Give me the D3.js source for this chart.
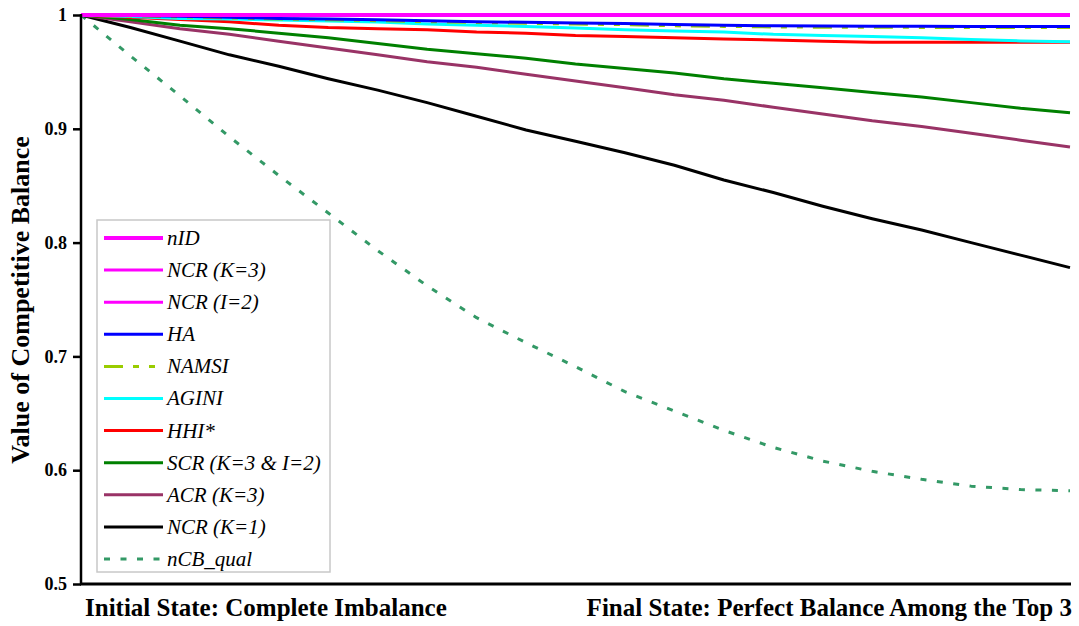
<!DOCTYPE html>
<html>
<head>
<meta charset="utf-8">
<script src="https://cdn.jsdelivr.net/npm/d3@7"></script>
<style>
  html, body { margin: 0; padding: 0; background: #fff; }
  svg { display: block; }
  text { font-family: "Liberation Serif", "Times New Roman", serif; fill: #000; }
</style>
</head>
<body>
<svg id="chart" width="1079" height="626"></svg>
<script>
// ---------- data ----------
const steps = d3.range(0, 21); // 0 = initial state, 20 = final state

const nID      = [1,1,1,1,1,1,1,1,1,1,1,1,1,1,1,1,1,1,1,1,1];
const ncrK3    = [1,1,1,1,1,1,1,1,1,1,1,1,1,1,1,1,1,1,1,1,1];
const ncrI2    = [1,1,1,1,1,1,1,1,1,1,1,1,1,1,1,1,1,1,1,1,1];
const ha       = [1.000,0.9996,0.9989,0.998,0.997,0.9965,0.9958,0.995,0.994,0.9936,0.993,0.9925,0.9917,0.991,0.9905,0.9903,0.9902,0.9901,0.990,0.990,0.990];
const namsi    = [1.000,0.9992,0.9984,0.9975,0.9965,0.9958,0.995,0.9942,0.9934,0.9928,0.992,0.9915,0.9905,0.990,0.9895,0.9893,0.9892,0.9891,0.989,0.989,0.989];
const agini    = [1.000,0.9987,0.997,0.9965,0.9956,0.9947,0.9939,0.992,0.991,0.990,0.9886,0.987,0.986,0.985,0.983,0.982,0.981,0.980,0.9785,0.9772,0.9765];
const hhi      = [1.000,0.998,0.996,0.994,0.991,0.989,0.988,0.987,0.985,0.984,0.982,0.981,0.980,0.979,0.978,0.977,0.976,0.976,0.976,0.976,0.976];
const scr      = [1.000,0.996,0.991,0.988,0.984,0.980,0.975,0.970,0.966,0.962,0.957,0.953,0.949,0.944,0.940,0.936,0.932,0.928,0.923,0.918,0.914];
const acrK3    = [1.000,0.994,0.988,0.983,0.977,0.971,0.965,0.959,0.954,0.948,0.942,0.936,0.930,0.925,0.919,0.913,0.907,0.902,0.896,0.890,0.884];
const ncrK1    = [1.000,0.989,0.977,0.965,0.955,0.944,0.934,0.923,0.911,0.899,0.889,0.879,0.868,0.855,0.844,0.832,0.821,0.811,0.800,0.789,0.778];
const ncbQual  = [1.000,0.964,0.929,0.893,0.859,0.826,0.793,0.762,0.734,0.712,0.691,0.669,0.652,0.635,0.620,0.608,0.599,0.592,0.586,0.583,0.582];

const seriesNames = ["nID","NCR (K=3)","NCR (I=2)","HA","NAMSI","AGINI","HHI*","SCR (K=3 & I=2)","ACR (K=3)","NCR (K=1)","nCB_qual"];
const seriesValues = [nID, ncrK3, ncrI2, ha, namsi, agini, hhi, scr, acrK3, ncrK1, ncbQual];
const yTicks = [0.5, 0.6, 0.7, 0.8, 0.9, 1];
const yTickLabels = ["0.5","0.6","0.7","0.8","0.9","1"];
const xStartLabel = "Initial State: Complete Imbalance";
const xEndLabel = "Final State: Perfect Balance Among the Top 3";
const yTitle = "Value of Competitive Balance";

// ---------- styles ----------
const styles = {
  "nID":             {color: "#ff00ff", width: 4,   dash: null},
  "NCR (K=3)":       {color: "#ff00ff", width: 3,   dash: null},
  "NCR (I=2)":       {color: "#ff00ff", width: 3,   dash: null},
  "HA":              {color: "#0000ff", width: 3,   dash: null},
  "NAMSI":           {color: "#99cc00", width: 3,   dash: "19,10,6,10,6,10"},
  "AGINI":           {color: "#00ffff", width: 3,   dash: null},
  "HHI*":            {color: "#ff0000", width: 3,   dash: null},
  "SCR (K=3 & I=2)": {color: "#008000", width: 3,   dash: null},
  "ACR (K=3)":       {color: "#993366", width: 3,   dash: null},
  "NCR (K=1)":       {color: "#000000", width: 3,   dash: null},
  "nCB_qual":        {color: "#339966", width: 3,   dash: "6,10.5"}
};

const series = seriesNames.map((n, i) => ({name: n, values: seriesValues[i]}));

// ---------- layout ----------
const svg = d3.select("#chart");
const x = d3.scaleLinear().domain([0, 20]).range([81, 1070]);
const y = d3.scaleLinear().domain([0.5, 1]).range([584, 15]);

const line = d3.line()
  .x((d, i) => x(steps[i]))
  .y(d => y(d));

// lines (reverse legend order so nID ends on top)
svg.append("g").selectAll("path")
  .data(series.slice().reverse())
  .join("path")
  .attr("d", d => line(d.values))
  .attr("fill", "none")
  .attr("stroke", d => styles[d.name].color)
  .attr("stroke-width", d => styles[d.name].width)
  .attr("stroke-dasharray", d => styles[d.name].dash)
  .attr("stroke-linejoin", "round");

// y axis
const yAxis = d3.axisLeft(y)
  .tickValues(yTicks)
  .tickFormat((d, i) => yTickLabels[i])
  .tickSize(8)
  .tickPadding(6);
const gy = svg.append("g").attr("transform", "translate(81,0)").call(yAxis);
gy.attr("font-family", null).attr("font-size", null);
gy.select(".domain").attr("stroke", "#000").attr("stroke-width", 2.5).attr("d", "M0,14V585");
gy.selectAll(".tick line").attr("stroke", "#000").attr("stroke-width", 2.5);
gy.selectAll(".tick text")
  .style("font-family", "'Liberation Serif', 'Times New Roman', serif")
  .attr("font-weight", "bold")
  .attr("font-size", 18)
  .attr("fill", "#000");

// x axis (line only)
const xAxis = d3.axisBottom(x).tickValues([]).tickSizeOuter(0);
const gx = svg.append("g").attr("transform", "translate(0,584)").call(xAxis);
gx.select(".domain").attr("stroke", "#000").attr("stroke-width", 3).attr("d", "M80,0H1071");

// x labels
svg.append("text")
  .attr("x", 85).attr("y", 616)
  .attr("font-weight", "bold").attr("font-size", 25)
  .text(xStartLabel);
svg.append("text")
  .attr("x", 1072).attr("y", 616)
  .attr("text-anchor", "end")
  .attr("font-weight", "bold").attr("font-size", 25)
  .text(xEndLabel);

// y title
svg.append("text")
  .attr("transform", "translate(29,300) rotate(-90)")
  .attr("text-anchor", "middle")
  .attr("font-weight", "bold").attr("font-size", 26)
  .text(yTitle);

// legend
const lg = svg.append("g");
lg.append("rect")
  .attr("x", 97).attr("y", 220).attr("width", 233).attr("height", 352)
  .attr("fill", "#fff").attr("stroke", "#c8c8c8").attr("stroke-width", 1.5);
const rows = lg.selectAll("g.row").data(series).join("g")
  .attr("class", "row")
  .attr("transform", (d, i) => `translate(0,${238 + i * 32.1})`);
rows.append("line")
  .attr("x1", 104).attr("x2", 163).attr("y1", 0).attr("y2", 0)
  .attr("stroke", d => styles[d.name].color)
  .attr("stroke-width", d => styles[d.name].width)
  .attr("stroke-dasharray", d => styles[d.name].dash);
rows.append("text")
  .attr("x", 167).attr("y", 0).attr("dy", "0.33em")
  .attr("font-style", "italic").attr("font-size", 21)
  .text(d => d.name);
</script>
</body>
</html>
